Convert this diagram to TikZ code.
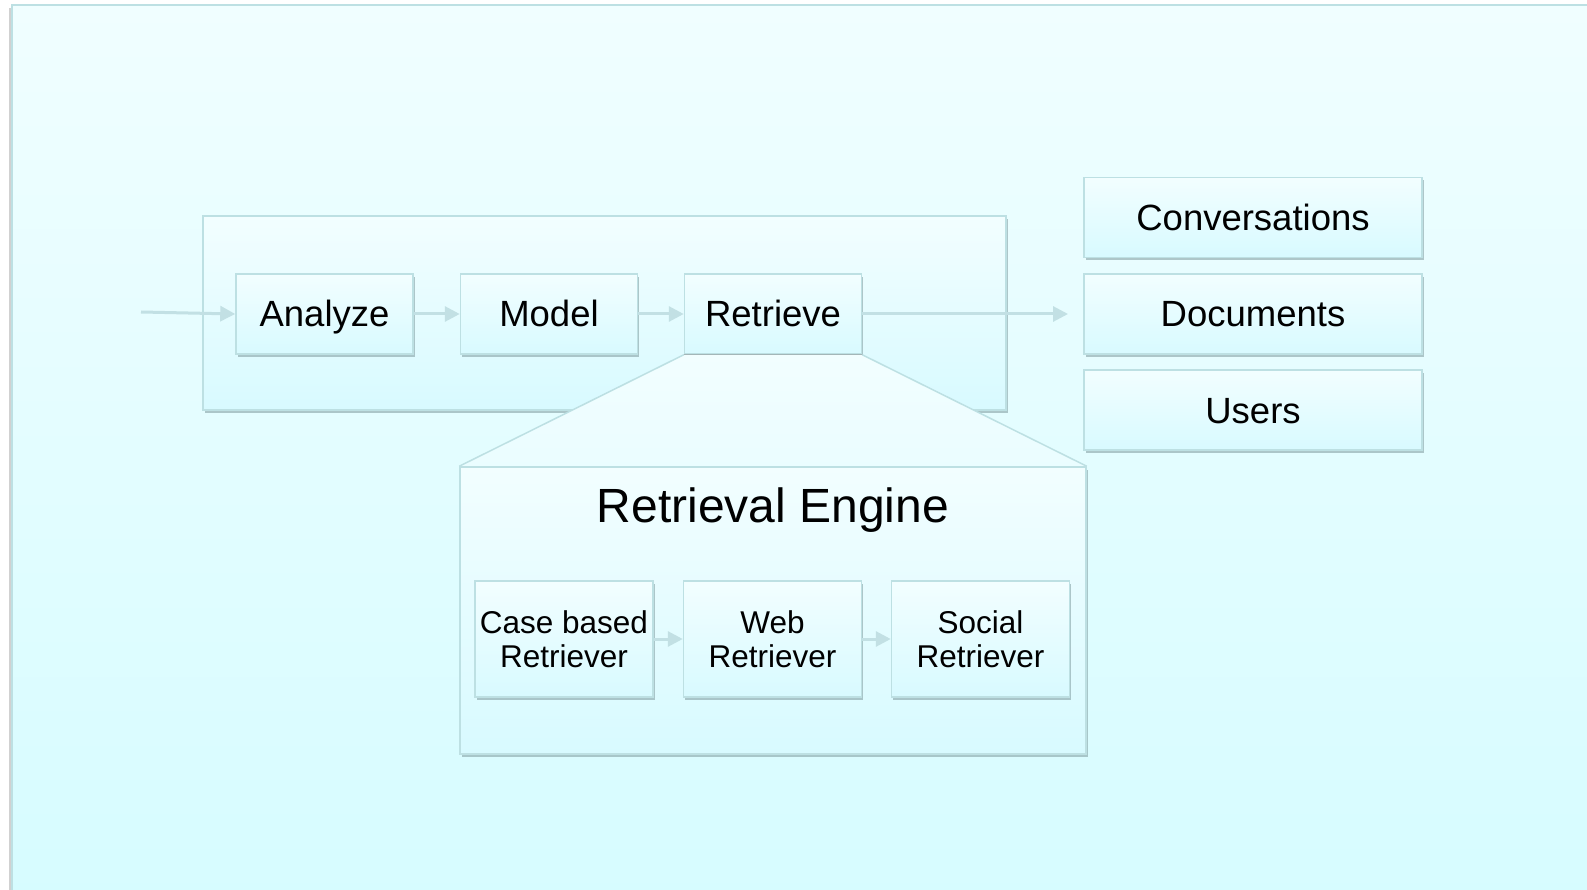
\documentclass[tikz,border=0pt]{standalone}
\usepackage{fontspec}
\setmainfont{Liberation Sans}
\usetikzlibrary{arrows.meta,shadows}
\definecolor{bgtop}{HTML}{F0FEFF}
\definecolor{bgbot}{HTML}{D6FCFF}
\definecolor{boxtop}{HTML}{F2FEFF}
\definecolor{boxbot}{HTML}{D8FAFF}
\definecolor{bordc}{HTML}{BDE0E3}
\definecolor{arrowc}{HTML}{C2E0E4}
\definecolor{shadc}{HTML}{86A2A6}
\tikzset{
  panel/.style={draw=bordc, line width=1.5pt, top color=boxtop, bottom color=boxbot,
    drop shadow={shadow xshift=1.5pt, shadow yshift=-3pt, opacity=0.6, fill=shadc}},
  mainbox/.style={panel, minimum width=177pt, minimum height=80pt, inner sep=0pt,
    text height=30pt, text depth=4pt, font=\fontsize{36.5}{40}\selectfont},
  sidebox/.style={panel, minimum width=338pt, minimum height=80pt, inner sep=0pt,
    text height=30pt, text depth=4pt, font=\fontsize{36.5}{40}\selectfont},
  subbox/.style={panel, minimum width=178pt, minimum height=116pt, inner sep=0pt,
    align=center, font=\fontsize{31.5}{33.5}\selectfont},
  flow/.style={draw=arrowc, line width=3pt, -{Triangle[length=15pt,width=15pt,fill=arrowc]}},
}
\begin{document}
\begin{tikzpicture}[x=1pt,y=-1pt]
\useasboundingbox (0,0) rectangle (1587,890);
% slide background
\fill[white] (0,0) rectangle (1587,890);
\draw[line width=2.5pt, draw=black!18] (10.5,8) -- (10.5,890);
\shade[top color=bgtop, bottom color=bgbot] (12,5) rectangle (1600,900);
\draw[draw=bordc, line width=2pt] (12,900) -- (12,5) -- (1600,5);
% outer container
\node[panel, minimum width=803pt, minimum height=194pt, inner sep=0pt] (outer) at (604.5,313) {};
% engine box
\node[panel, minimum width=626pt, minimum height=287pt, inner sep=0pt] (engine) at (773,610.5) {};
% main boxes
\node[mainbox] (analyze) at (324.5,314) {Analyze};
\node[mainbox] (model) at (549,314) {Model};
\node[mainbox] (retrieve) at (773,314) {Retrieve};
% zoom trapezoid
\fill[top color=boxtop, bottom color=boxtop!70!boxbot]
  (retrieve.south west) -- (retrieve.south east) -- (engine.north east) -- (engine.north west) -- cycle;
\draw[draw=bordc, line width=1.5pt] (retrieve.south west) -- (engine.north west);
\draw[draw=bordc, line width=1.5pt] (retrieve.south east) -- (engine.north east);
\draw[draw=bordc, line width=1.5pt] (engine.north west) -- (engine.north east);
\node[font=\fontsize{48}{52}\selectfont, inner sep=0pt] (title) at (773,510) {Retrieval Engine};
% right boxes
\node[sidebox] (conv) at (1253,217.5) {Conversations};
\node[sidebox] (docs) at (1253,314) {Documents};
\node[sidebox] (users) at (1253,410) {Users};
% sub boxes
\node[subbox] (case) at (564,639) {Case based\\Retriever};
\node[subbox] (web) at (772.5,639) {Web\\Retriever};
\node[subbox] (social) at (980.5,639) {Social\\Retriever};
% arrows
\coordinate (start) at (141,312);
\coordinate (outend) at (1068,314);
\draw[flow] (start) -- (analyze.west);
\draw[flow] (analyze.east) -- (model.west);
\draw[flow] (model.east) -- (retrieve.west);
\draw[flow] (retrieve.east) -- (outend);
\draw[flow] (case.east) -- (web.west);
\draw[flow] (web.east) -- (social.west);
\end{tikzpicture}
\end{document}
